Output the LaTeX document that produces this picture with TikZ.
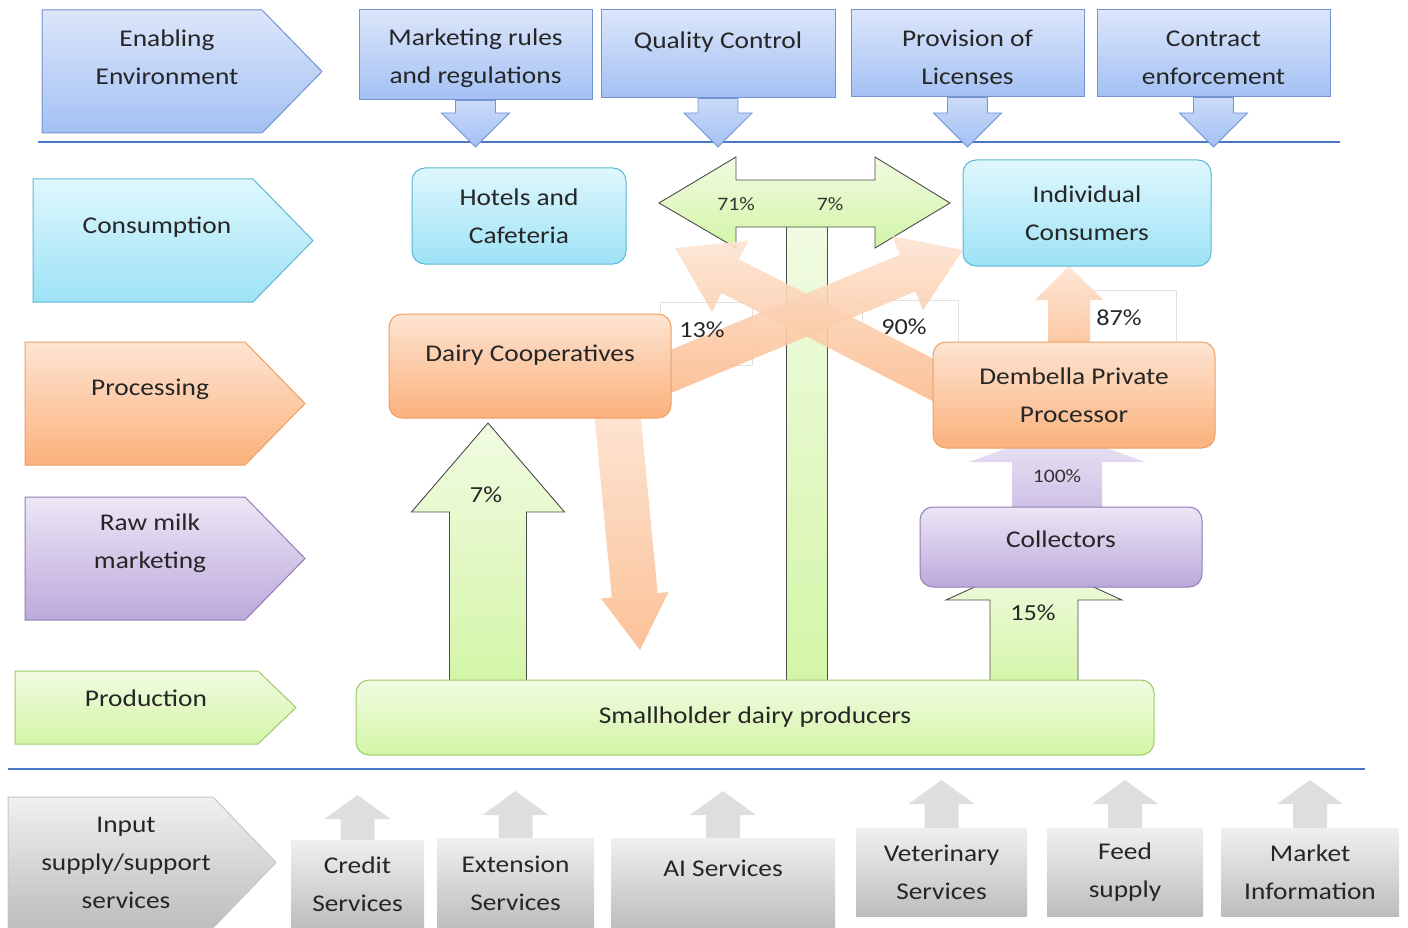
\documentclass[tikz,border=0pt]{standalone}
\usepackage{fontspec}
\setmainfont{Carlito}[FakeStretch=1.14]
\usetikzlibrary{calc,positioning}

\definecolor{blueT}{HTML}{DCE6FA}\definecolor{blueB}{HTML}{A3C0F4}\definecolor{blueD}{HTML}{7393D3}
\definecolor{cyanT}{HTML}{DFF7FD}\definecolor{cyanB}{HTML}{9DE2F6}\definecolor{cyanD}{HTML}{5DB7D4}
\definecolor{orT}{HTML}{FDE4D2}\definecolor{orB}{HTML}{FBB17C}\definecolor{orD}{HTML}{EE9F62}
\definecolor{puT}{HTML}{ECE6F5}\definecolor{puB}{HTML}{BCA9DC}\definecolor{puD}{HTML}{8F7EB6}
\definecolor{grT}{HTML}{F1FBE2}\definecolor{grB}{HTML}{D3F5A6}\definecolor{grD}{HTML}{9DC96B}
\definecolor{gyT}{HTML}{F0F0F0}\definecolor{gyB}{HTML}{BDBDBD}\definecolor{gyD}{HTML}{C6C6C6}
\definecolor{sep}{HTML}{4A76C6}

\newcommand{\fatarrow}[6][]{%
  \coordinate (fa-a) at (#2);
  \coordinate (fa-b) at (#3);
  \coordinate (fa-h) at ($(fa-b)!#6!(fa-a)$);
  \path[#1] ($(fa-a)!#4!-90:(fa-b)$) -- ($(fa-h)!#4!90:(fa-a)$) -- ($(fa-h)!#5!90:(fa-a)$) -- (fa-b)
    -- ($(fa-h)!#5!-90:(fa-a)$) -- ($(fa-h)!#4!-90:(fa-a)$) -- ($(fa-a)!#4!90:(fa-b)$) -- cycle;
}

\tikzset{
  lbl/.style={align=center, font=\fontsize{24}{38}\selectfont, text=black!85},
  pct/.style={font=\fontsize{23}{26}\selectfont, text=black!85},
  pctsmall/.style={font=\fontsize{19}{22}\selectfont, text=black!80},
  bluefill/.style={top color=blueT, bottom color=blueB, draw=blueD},
  cyanfill/.style={top color=cyanT, bottom color=cyanB, draw=cyanD},
  orangefill/.style={top color=orT, bottom color=orB, draw=orD},
  purplefill/.style={top color=puT, bottom color=puB, draw=puD},
  greenfill/.style={top color=grT, bottom color=grB, draw=grD},
  grayfill/.style={top color=gyT, bottom color=gyB, draw=gyD},
  box/.style={lbl, rounded corners=13pt, line width=1pt, inner sep=0pt},
  callout/.style={lbl, bluefill, line width=1pt, inner sep=0pt},
  svc/.style={lbl, top color=gyT, bottom color=gyB, inner sep=0pt},
  pctframe/.style={draw=black!12, fill=white, line width=0.8pt},
  bluearrow/.style={top color=blueT!70!blueB, bottom color=blueB, draw=blueD, line width=0.8pt},
  grayarrow/.style={fill=black!13},
  greenarrow/.style={top color=grT, bottom color=grB, draw=black!70, line width=0.9pt},
  orangearrow/.style={top color=orT, bottom color=orB!80!orT, fill opacity=0.9},
  purplearrow/.style={top color=puT, bottom color=puB!70!puT},
  sepline/.style={draw=sep, line width=1.1pt}
}

\begin{document}
\begin{tikzpicture}[x=1pt, y=-1pt]
	\clip (0,0) rectangle (1408,928);
	\draw[sepline] (38,142) -- (1340,142);
	\draw[sepline] (8,769) -- (1365,769);

	% stages on the left
	\foreach \sty/\xl/\xb/\xt/\yt/\yb in {bluefill/42/262/322/10/133, cyanfill/33/253/313/179/302, orangefill/25/245/305/342/465, purplefill/25/245/305/497/620, greenfill/15/258/296/671/744, grayfill/8/213/276/797/928}
		\draw[\sty, line width=1pt] (\xl,\yt) -- (\xb,\yt) -- (\xt,{(\yt+\yb)/2}) -- (\xb,\yb) -- (\xl,\yb) -- cycle;
	\node[lbl] (enabling) at (167,57) {Enabling\\Environment};
	\node[lbl] (consumption) at (157,227) {Consumption};
	\node[lbl] (processing) at (150,389) {Processing};
	\node[lbl] (rawmilk) at (150,543) {Raw milk\\marketing};
	\node[lbl] (production) at (146,698) {Production};
	\node[lbl] (input) at (126,863) {Input\\supply/support\\services};

	% enabling environment
	\node[callout, text height=62pt, minimum width=233pt, minimum height=90pt] (rules) at (475.5,55) {Marketing rules\\and regulations};
	\node[callout, minimum width=234pt, minimum height=88pt] (quality) at (718,54) {Quality Control\\[-10pt]\mbox{}};
	\node[callout, text height=62pt, minimum width=233pt, minimum height=87pt] (licenses) at (967.5,53.5) {Provision of\\Licenses};
	\node[callout, text height=62pt, minimum width=233pt, minimum height=87pt] (contract) at (1213.5,53.5) {Contract\\enforcement};
	\foreach \n in {rules,quality,licenses,contract}
		\fatarrow[bluearrow]{\n.south}{\n.south |- 0,147}{20pt}{34pt}{34pt};

	% label frames
	\draw[pctframe] (660,302) rectangle (752,365);
	\draw[pctframe] (862,300) rectangle (958,365);
	\draw[pctframe] (1078,290) rectangle (1176,342);

	% green flows
	\draw[greenarrow] (786,226) rectangle (827,690);
	\draw[greenarrow] (659,203) -- (736,157) -- (736,180) -- (875,180) -- (875,157) -- (950,203)
		-- (875,248) -- (875,227) -- (736,227) -- (736,248) -- cycle;
	\coordinate (coopin) at (488,423);
	\fatarrow[greenarrow]{488,690}{coopin}{38.5pt}{76.5pt}{89pt};
	\fatarrow[greenarrow]{1034,690}{1034,560}{44pt}{88pt}{40pt};

	% processed milk flows
	\fatarrow[orangearrow]{616,400}{640,650}{23pt}{34pt}{55pt};
	\fatarrow[orangearrow]{945,386}{675,248}{19pt}{40pt}{62pt};
	\fatarrow[orangearrow]{655,378}{963,250}{20pt}{40pt}{60pt};
	\fatarrow[orangearrow]{1069,360}{1069,266}{21pt}{34pt}{34pt};
	\fatarrow[purplearrow]{1057,520}{1057,430}{45pt}{88pt}{32pt};

	% actors
	\node[box, cyanfill, minimum width=214pt, minimum height=96pt] (hotels) at (519,216) {Hotels and\\Cafeteria};
	\node[box, cyanfill, minimum width=248pt, minimum height=106pt] (consumers) at (1087,213) {Individual\\Consumers};
	\node[box, orangefill, minimum width=282pt, minimum height=104pt] (coop) at (530,366) {Dairy Cooperatives\\[-12pt]\mbox{}};
	\node[box, orangefill, minimum width=282pt, minimum height=106pt] (dembella) at (1074,395) {Dembella Private\\Processor};
	\node[box, purplefill, minimum width=282pt, minimum height=80pt] (collectors) at (1061,547) {Collectors\\[-22pt]\mbox{}};
	\node[box, greenfill, minimum width=798pt, minimum height=75pt] (smallholder) at (755,717.5) {Smallholder dairy producers};

	% shares
	\node[pctsmall] (p71) at (736,204) {71\%};
	\node[pctsmall] (p7b) at (830,204) {7\%};
	\node[pct] (p13) at (702,330) {13\%};
	\node[pct] (p90) at (904,327) {90\%};
	\node[pct] (p87) at (1119,318) {87\%};
	\node[pctsmall] (p100) at (1057,476) {100\%};
	\node[pct] (p15) at (1033,613) {15\%};
	\node[pct] (p7a) at (486,495) {7\%};

	% support services
	\node[svc, minimum width=133pt, minimum height=88pt] (credit) at (357.5,884) {Credit\\Services};
	\node[svc, minimum width=157pt, minimum height=90pt] (extension) at (515.5,883) {Extension\\Services};
	\node[svc, minimum width=224pt, minimum height=90pt] (ai) at (723,883) {AI Services\\[-8pt]\mbox{}};
	\node[svc, minimum width=171pt, minimum height=88pt] (vet) at (941.5,872) {Veterinary\\Services};
	\node[svc, minimum width=156pt, minimum height=88pt] (feed) at (1125,872) {Feed\\supply};
	\node[svc, minimum width=178pt, minimum height=88pt] (market) at (1310,872) {Market\\Information};
	\foreach \n/\t in {credit/795,extension/791,ai/791,vet/780,feed/780,market/780}
		\fatarrow[grayarrow]{\n.north}{\n.north |- 0,\t}{17pt}{33pt}{24pt};
\end{tikzpicture}
\end{document}
